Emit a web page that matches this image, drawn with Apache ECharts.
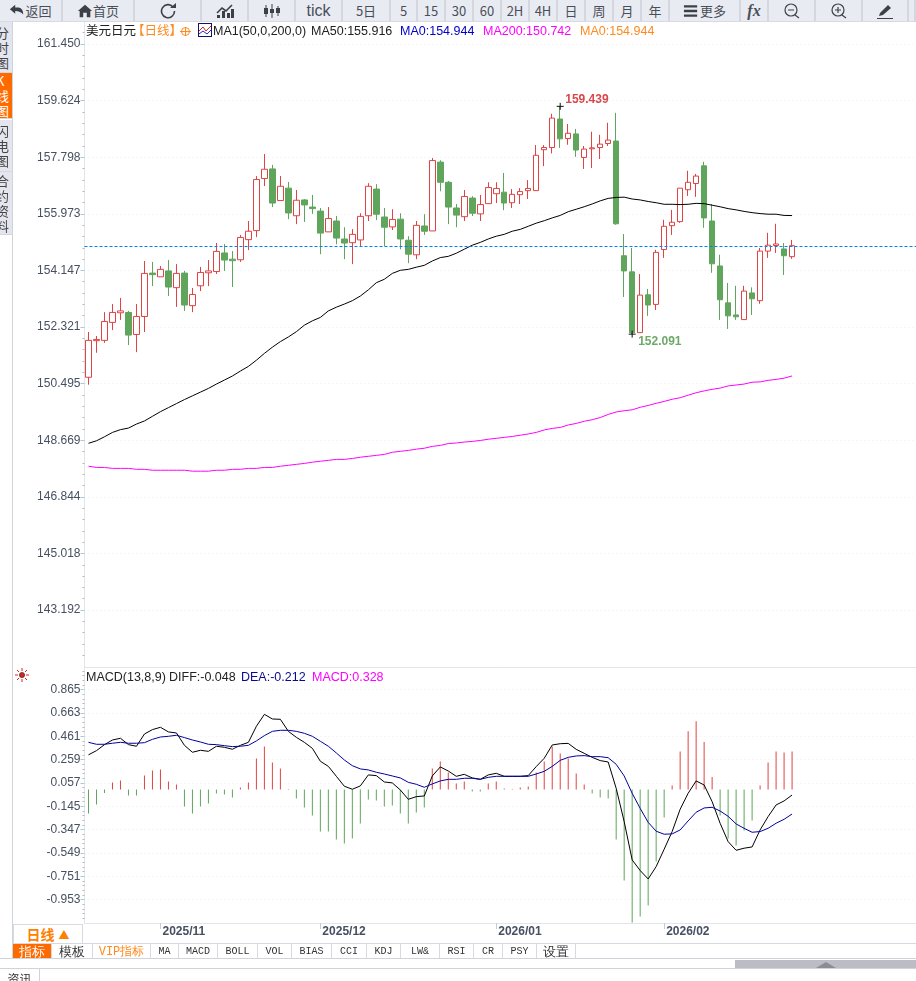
<!DOCTYPE html>
<html>
<head>
<meta charset="UTF-8">
<title>美元日元 日线</title>
<script src="https://cdn.jsdelivr.net/npm/echarts@6/dist/echarts.min.js"></script>
<style>
html,body{margin:0;padding:0;background:#fff;overflow:hidden}
body{width:916px;height:981px;position:relative;font-family:"Noto Sans CJK SC","Liberation Sans",sans-serif}
#main{position:absolute;left:0;top:0;width:916px;height:981px}
.bar{position:absolute;overflow:hidden;white-space:nowrap;box-sizing:border-box;display:flex;align-items:center;justify-content:center}
</style>
</head>
<body>
<div id="main"></div>
<div id="chrome"></div>
<script>
// 日期
var dates = [
'2025/10/21','2025/10/22','2025/10/23','2025/10/24','2025/10/27','2025/10/28','2025/10/29','2025/10/30','2025/10/31',
'2025/11/03','2025/11/04','2025/11/05','2025/11/06','2025/11/07','2025/11/10','2025/11/11','2025/11/12','2025/11/13','2025/11/14',
'2025/11/17','2025/11/18','2025/11/19','2025/11/20','2025/11/21','2025/11/24','2025/11/25','2025/11/26','2025/11/27','2025/11/28',
'2025/12/01','2025/12/02','2025/12/03','2025/12/04','2025/12/05','2025/12/08','2025/12/09','2025/12/10','2025/12/11','2025/12/12',
'2025/12/15','2025/12/16','2025/12/17','2025/12/18','2025/12/19','2025/12/22','2025/12/23','2025/12/24','2025/12/26','2025/12/29','2025/12/30','2025/12/31',
'2026/01/02','2026/01/05','2026/01/06','2026/01/07','2026/01/08','2026/01/09','2026/01/12','2026/01/13','2026/01/14','2026/01/15','2026/01/16',
'2026/01/19','2026/01/20','2026/01/21','2026/01/22','2026/01/23','2026/01/26','2026/01/27','2026/01/28','2026/01/29','2026/01/30',
'2026/02/02','2026/02/03','2026/02/04','2026/02/05','2026/02/06','2026/02/09','2026/02/10','2026/02/11','2026/02/12','2026/02/13',
'2026/02/16','2026/02/17','2026/02/18','2026/02/19','2026/02/20','2026/02/23','2026/02/24'];
var monthStarts = ['2025/11/03','2025/12/01','2026/01/02','2026/02/02'];

// 开 收 低 高
var kline = [
[150.70,151.89,150.46,152.16],[151.88,151.92,151.49,152.03],[151.89,152.50,151.81,152.80],[152.47,152.79,152.22,153.06],
[152.78,152.84,152.55,153.26],[152.79,152.06,151.74,152.84],[152.08,152.66,151.51,153.06],[152.66,154.05,152.16,154.45],
[154.06,154.01,153.64,154.42],[153.94,154.18,153.94,154.29],[154.13,153.61,153.32,154.48],[153.59,154.05,152.97,154.35],
[154.06,153.03,152.84,154.13],[153.01,153.37,152.80,153.58],[153.65,154.08,153.48,154.26],[154.07,154.13,153.64,154.48],
[154.11,154.76,154.03,155.03],[154.71,154.48,154.13,155.00],[154.51,154.46,153.61,154.77],[154.49,155.21,154.42,155.29],
[155.14,155.41,154.80,155.74],[155.43,157.08,155.22,157.19],[157.11,157.41,156.87,157.90],[157.42,156.32,156.19,157.55],
[156.40,156.86,156.40,157.19],[156.80,156.00,155.80,157.00],[155.91,156.41,155.64,156.74],[156.42,156.26,155.71,156.45],
[156.19,156.14,155.97,156.58],[156.06,155.35,154.67,156.16],[155.39,155.82,155.39,156.19],[155.74,155.19,154.99,155.90],
[155.16,155.03,154.51,155.54],[155.04,155.31,154.35,155.48],[155.13,155.89,154.93,155.99],[155.91,156.86,155.74,156.96],
[156.77,155.96,155.77,156.93],[155.87,155.54,154.93,156.16],[155.55,155.79,155.45,156.12],[155.80,155.16,154.83,155.99],
[155.12,154.67,154.38,155.25],[154.65,155.60,154.51,155.74],[155.58,155.41,155.29,155.96],[155.42,157.69,155.42,157.77],
[157.64,156.99,156.70,157.70],[156.99,156.19,155.64,157.03],[156.16,155.93,155.54,156.29],[155.88,156.53,155.74,156.74],
[156.48,155.99,155.90,156.54],[155.97,156.27,155.74,156.58],[156.30,156.82,156.30,156.99],[156.62,156.79,156.32,156.99],
[156.67,156.32,156.09,157.29],[156.33,156.60,156.16,156.77],[156.59,156.69,156.29,156.80],[156.72,156.79,156.45,157.06],
[156.72,157.86,156.72,158.19],[158.04,158.11,157.51,158.19],[158.11,159.06,157.92,159.20],[159.03,158.39,158.10,159.439],
[158.40,158.57,158.20,158.87],[158.55,158.03,157.81,158.71],[157.79,158.06,157.42,158.16],[158.07,158.10,157.45,158.62],
[158.11,158.22,157.74,158.52],[158.24,158.35,158.16,158.91],[158.32,155.65,155.62,159.23],[154.62,154.13,153.29,155.32],
[154.10,152.14,152.091,154.87],[152.14,153.35,152.14,154.03],[153.36,153.03,152.68,153.55],[153.05,154.73,152.87,154.81],
[154.82,155.57,154.55,155.78],[155.59,155.70,155.29,156.10],[155.72,156.80,155.68,156.80],[156.75,156.99,156.55,157.36],
[156.95,157.19,156.52,157.26],[157.52,155.84,155.52,157.65],[155.74,154.36,154.07,156.29],[154.29,153.20,152.55,154.65],
[153.10,152.68,152.26,153.74],[152.71,152.65,152.55,153.65],[152.56,153.48,152.56,153.65],[153.42,153.23,152.71,153.60],
[153.17,154.77,153.07,154.87],[154.77,154.96,154.55,155.36],[154.95,155.00,154.71,155.65],[154.84,154.62,154.00,155.03],
[154.59,154.944,154.52,155.13]];

var ma50 = [148.57,148.65,148.78,148.92,149.01,149.06,149.19,149.29,149.44,149.59,149.72,149.85,149.98,150.10,150.22,150.34,150.48,150.61,150.74,150.90,
151.05,151.25,151.47,151.67,151.85,152.00,152.17,152.38,152.52,152.63,152.84,152.96,153.06,153.17,153.32,153.52,153.75,153.86,154.05,154.15,
154.18,154.25,154.31,154.45,154.56,154.60,154.70,154.83,154.96,155.05,155.16,155.25,155.31,155.41,155.47,155.57,155.67,155.75,155.84,155.92,
156.04,156.12,156.20,156.29,156.39,156.47,156.50,156.51,156.45,156.42,156.37,156.33,156.28,156.28,156.27,156.28,156.31,156.30,156.25,156.20,
156.14,156.10,156.05,156.01,155.98,155.96,155.96,155.92,155.916];

var ma200 = [147.83,147.79,147.79,147.76,147.76,147.76,147.73,147.73,147.70,147.70,147.70,147.70,147.70,147.67,147.67,147.67,147.70,147.70,147.73,147.73,
147.76,147.76,147.79,147.79,147.83,147.86,147.89,147.92,147.96,147.99,148.02,148.05,148.05,148.08,148.12,148.15,148.18,148.21,148.28,148.31,
148.34,148.38,148.41,148.47,148.50,148.56,148.58,148.61,148.63,148.66,148.70,148.73,148.76,148.79,148.83,148.87,148.92,149.00,149.05,149.08,
149.16,149.21,149.28,149.33,149.40,149.50,149.58,149.62,149.65,149.73,149.79,149.86,149.92,149.99,150.04,150.12,150.20,150.26,150.31,150.35,
150.42,150.45,150.48,150.54,150.55,150.60,150.63,150.67,150.742];

var diff = [0.300,0.336,0.388,0.428,0.443,0.388,0.374,0.480,0.518,0.538,0.498,0.489,0.382,0.322,0.339,0.330,0.374,0.365,0.348,0.382,
0.408,0.547,0.650,0.610,0.607,0.503,0.451,0.408,0.356,0.244,0.200,0.114,0.028,0.002,0.031,0.126,0.120,0.065,0.057,-0.004,
-0.085,-0.062,-0.056,0.117,0.195,0.160,0.114,0.131,0.100,0.088,0.126,0.140,0.114,0.114,0.114,0.120,0.198,0.270,0.385,0.396,
0.399,0.347,0.313,0.278,0.250,0.238,0.010,-0.278,-0.609,-0.701,-0.774,-0.667,-0.517,-0.364,-0.171,-0.033,0.074,0.039,-0.105,-0.292,
-0.451,-0.526,-0.508,-0.497,-0.350,-0.235,-0.134,-0.099,-0.048];

var dea = [0.408,0.391,0.391,0.400,0.408,0.400,0.400,0.405,0.434,0.454,0.460,0.469,0.449,0.428,0.411,0.391,0.388,0.379,0.371,0.374,
0.382,0.420,0.466,0.503,0.512,0.512,0.503,0.486,0.460,0.417,0.374,0.316,0.255,0.206,0.178,0.169,0.149,0.134,0.117,0.100,
0.062,0.045,0.019,0.048,0.074,0.088,0.088,0.097,0.097,0.088,0.105,0.114,0.114,0.114,0.114,0.114,0.134,0.157,0.200,0.252,
0.278,0.290,0.293,0.284,0.284,0.275,0.218,0.117,-0.033,-0.163,-0.284,-0.361,-0.387,-0.384,-0.350,-0.272,-0.197,-0.160,-0.154,-0.186,
-0.232,-0.298,-0.336,-0.370,-0.364,-0.336,-0.292,-0.258,-0.212];

var macd = [-0.207,-0.130,-0.030,0.060,0.078,-0.052,-0.052,0.120,0.164,0.173,0.069,0.043,-0.147,-0.207,-0.147,-0.121,-0.035,-0.043,-0.069,0.017,
0.060,0.268,0.372,0.233,0.182,0.005,-0.078,-0.156,-0.225,-0.363,-0.363,-0.432,-0.467,-0.424,-0.294,-0.086,-0.095,-0.147,-0.138,-0.207,
-0.294,-0.199,-0.156,0.182,0.242,0.147,0.052,0.069,-0.017,-0.017,0.052,0.069,0.008,0.005,0.017,0.026,0.147,0.242,0.372,0.311,
0.268,0.138,0.043,-0.035,-0.069,-0.078,-0.432,-0.787,-1.150,-1.098,-1.003,-0.622,-0.242,0.035,0.329,0.503,0.591,0.410,0.107,-0.225,
-0.424,-0.484,-0.354,-0.268,0.035,0.233,0.329,0.320,0.328];

var priceTicks = [161.450,159.624,157.798,155.973,154.147,152.321,150.495,148.669,146.844,145.018,143.192];
var macdTicks = [0.865,0.663,0.461,0.259,0.057,-0.145,-0.347,-0.549,-0.751,-0.953];
var lastPrice = 154.944, highPrice = 159.439, lowPrice = 152.091;

var priceLegend = [
	['美元日元', 86, '#222'], ['【日线】', 132, '#ff8a1f'], ['MA1(50,0,200,0)', 213, '#222'], ['MA50:155.916', 311, '#222'],
	['MA0:154.944', 400, '#0000c8'], ['MA200:150.742', 483, '#ff00ff'], ['MA0:154.944', 580, '#ff8a1f']];
var macdLegend = [
	['MACD(13,8,9)', 86, '#222'], ['DIFF:-0.048', 169, '#222'], ['DEA:-0.212', 241, '#0a0a8c'], ['MACD:0.328', 312, '#ff00ff']];

var RED = '#e04343', GREEN = '#5fa55c', AXIS = '#e2e5ea', LABEL = '#465060';

function minorTicks(ticks){
	// 每格分5小格
	var step = ticks[0] - ticks[1], out = [];
	for(var i = -1; i < ticks.length + 1; i++){
		for(var j = 1; j < 5; j++){
			out.push(ticks[0] - step * i - step * j / 5);
		}
	}
	return out;
}

function yAxisFor(gridIndex, min, max, ticks){
	return [{
		gridIndex: gridIndex, type: 'value', min: min, max: max, position: 'left', scale: true,
		axisLine: {show: true, lineStyle: {color: AXIS}},
		axisTick: {show: true, length: 4, lineStyle: {color: '#a9c9de'}, customValues: ticks},
		axisLabel: {color: LABEL, fontFamily: 'Liberation Sans', fontSize: 12, margin: 4, customValues: ticks,
			formatter: function(v){ return v.toFixed(3); }},
		splitLine: {show: true, customValues: ticks, lineStyle: {color: '#ececec', type: [1, 3]}}
	},{
		gridIndex: gridIndex, type: 'value', min: min, max: max, position: 'left', scale: true,
		axisLine: {show: false},
		axisTick: {show: true, length: 2, lineStyle: {color: '#b4b8be'}, customValues: minorTicks(ticks)},
		axisLabel: {show: false}, splitLine: {show: false}
	}];
}

function legendText(items, y){
	return items.map(function(it){
		return {type: 'text', left: it[1], top: y, style: {text: it[0], fill: it[2], font: '12.5px "Liberation Sans","Noto Sans CJK SC"'}};
	});
}

function isMonthStart(idx, val){ return monthStarts.indexOf(val) >= 0; }

var chart = echarts.init(document.getElementById('main'));
chart.setOption({
	animation: false,
	grid: [
		{left: 84.5, top: 22, width: 832, height: 645},
		{left: 84.5, top: 667, width: 832, height: 256}
	],
	xAxis: [{
		gridIndex: 0, type: 'category', data: dates, max: 103, boundaryGap: true,
		axisLine: {show: true, onZero: false, lineStyle: {color: AXIS}}, axisTick: {show: false}, axisLabel: {show: false}, splitLine: {show: false}
	},{
		gridIndex: 1, type: 'category', data: dates, max: 103, boundaryGap: true,
		axisLine: {show: true, onZero: false, lineStyle: {color: AXIS}},
		axisTick: {show: true, alignWithLabel: true, length: 6, interval: isMonthStart, lineStyle: {color: '#c8ccd2'}},
		axisLabel: {interval: isMonthStart, align: 'left', margin: 3, padding: [0, 0, 0, 2], color: LABEL, fontFamily: 'Liberation Sans', fontSize: 12, fontWeight: 'bold',
			formatter: function(v){ return v.slice(0, 7); }},
		splitLine: {show: false}
	}],
	yAxis: yAxisFor(0, 141.353, 162.16, priceTicks).concat(yAxisFor(1, -1.155, 1.0596, macdTicks)),
	series: [{
		name: 'K', type: 'candlestick', xAxisIndex: 0, yAxisIndex: 0, data: kline, barWidth: 6,
		itemStyle: {color: '#fff', color0: GREEN, borderColor: RED, borderColor0: GREEN, borderWidth: 1},
		markLine: {
			silent: true, symbol: 'none', label: {show: false},
			lineStyle: {color: '#0080ff', type: [3, 2], width: 1},
			data: [{yAxis: lastPrice}]
		},
		markPoint: {
			symbol: 'path://M0 5H10M5 0V10', symbolSize: 7, silent: true,
			itemStyle: {color: 'none', borderColor: '#111', borderWidth: 1},
			data: [
				{coord: [59, highPrice], value: highPrice, label: {position: 'right', distance: 1, offset: [-2, -7], color: '#d9484a'}},
				{coord: [68, lowPrice], value: lowPrice, label: {position: 'right', distance: 1, offset: [-1, 8], color: '#6fa96a'}}
			],
			label: {show: true, fontFamily: 'Liberation Sans', fontSize: 12, fontWeight: 'bold', formatter: function(p){ return p.value.toFixed(3); }}
		}
	},{
		name: 'MA50', type: 'line', xAxisIndex: 0, yAxisIndex: 0, data: ma50, showSymbol: false, lineStyle: {color: '#000', width: 1}
	},{
		name: 'MA200', type: 'line', xAxisIndex: 0, yAxisIndex: 0, data: ma200, showSymbol: false, lineStyle: {color: '#ff00ff', width: 1}
	},{
		name: 'MACD', type: 'bar', xAxisIndex: 1, yAxisIndex: 2, data: macd, barWidth: 1,
		itemStyle: {color: function(p){ return p.value >= 0 ? RED : GREEN; }}
	},{
		name: 'DIFF', type: 'line', xAxisIndex: 1, yAxisIndex: 2, data: diff, showSymbol: false, lineStyle: {color: '#000', width: 1}
	},{
		name: 'DEA', type: 'line', xAxisIndex: 1, yAxisIndex: 2, data: dea, showSymbol: false, lineStyle: {color: '#00009c', width: 1}
	}],
	graphic: legendText(priceLegend, 25).concat(legendText(macdLegend, 671))
});

// 外框工具栏
var chrome = document.getElementById('chrome');
function add(x, y, w, h, css, html){
	var d = document.createElement('div');
	d.className = 'bar';
	d.style.cssText = 'left:' + x + 'px;top:' + y + 'px;width:' + w + 'px;height:' + h + 'px;' + (css || '');
	if(html) d.innerHTML = html;
	chrome.appendChild(d);
	return d;
}
function icon(path, w){
	return '<svg width="' + (w || 18) + '" height="16" viewBox="0 0 18 16" style="flex:none">' + path + '</svg>';
}
var DARK = '#3c4148';
var toolbar = [
	[0, 63, icon('<path d="M1 6 L7 1 V4 H11 Q16 5 16 12 Q13 8 7 8 V11 Z" fill="'+DARK+'"/>', 16) + '返回'],
	[63, 135, icon('<path d="M9 1 L17 8 H15 V15 H11 V10 H7 V15 H3 V8 H1 Z" fill="'+DARK+'"/>', 16) + ' 首页'],
	[135, 202, icon('<path d="M14 4 A6.5 6.5 0 1 0 15.5 8" fill="none" stroke="'+DARK+'" stroke-width="1.6"/><path d="M11 5 H17 V0 Z" fill="'+DARK+'"/>')],
	[202, 249, icon('<path d="M1 10 L6 5 L10 8 L16 2" fill="none" stroke="'+DARK+'" stroke-width="1.6"/><path d="M1 15 V12 H4 V15 Z M6 15 V8 H9 V15 Z M11 15 V10 H14 V15 Z M15 15 V6 H18 V15 Z" fill="'+DARK+'"/>')],
	[249, 296, icon('<path d="M3 2 V14 M9 1 V15 M15 3 V13" stroke="'+DARK+'" stroke-width="1"/><path d="M1 5 H5 V11 H1 Z M7 6 H11 V10 H7 Z M13 5 H17 V10 H13 Z" fill="'+DARK+'"/>')],
	[296, 343, '<span style="font:16px \'Liberation Sans\'">tick</span>'],
	[343, 391, '5日'], [391, 418, '5'], [418, 446, '15'], [446, 474, '30'], [474, 502, '60'], [502, 530, '2H'], [530, 558, '4H'],
	[558, 586, '日'], [586, 614, '周'], [614, 642, '月'], [642, 670, '年'],
	[670, 741, icon('<path d="M1 3 H15 M1 8 H15 M1 13 H15" stroke="'+DARK+'" stroke-width="2.4"/>', 17) + ' 更多'],
	[741, 769, '<span style="font:italic bold 16px \'Liberation Serif\'">fx</span>'],
	[769, 816, icon('<circle cx="8" cy="7" r="6" fill="none" stroke="'+DARK+'" stroke-width="1.2"/><path d="M5 7 H11 M12 12 L16 15" stroke="'+DARK+'" stroke-width="1.2"/>')],
	[816, 863, icon('<circle cx="8" cy="7" r="6" fill="none" stroke="'+DARK+'" stroke-width="1.2"/><path d="M5 7 H11 M8 4 V10 M12 12 L16 15" stroke="'+DARK+'" stroke-width="1.2"/>')],
	[863, 909, icon('<path d="M4 10 L12 2 L15 5 L7 12 L3 13 Z" fill="'+DARK+'"/><path d="M1 15.5 H17" stroke="'+DARK+'"/>')],
	[909, 916, '']
];
add(0, 0, 916, 22, 'background:#e9ebf3;border-bottom:1px solid #d8dae0');
toolbar.forEach(function(b){
	add(b[0], 0, b[1] - b[0], 21, 'border-right:2px solid #d5d7de;color:#4a4f57;font-size:13px;', b[2]);
});

// 左侧竖排页签
var sideTabs = [[22, 51, '分<br>时<br>图', '#e4e6ef', '#444'], [73, 46, 'K<br>线<br>图', '#ff6a00', '#fff'], [120, 52, '闪<br>电<br>图', '#e4e6ef', '#444'], [172, 63, '合<br>约<br>资<br>料', '#e4e6ef', '#444']];
sideTabs.forEach(function(t){
	add(0, t[0], 12, t[1], 'background:' + t[3] + ';color:' + t[4] + ';font-size:13px;line-height:15px;justify-content:flex-end;border-bottom:1px solid #d5d7de;', '<span style="margin-right:3px">' + t[2] + '</span>');
});
add(12, 22, 1, 937, 'background:#cfd3da');

// 指标图图标
add(15, 668, 14, 14, 'overflow:visible', '<svg width="14" height="14" viewBox="0 0 14 14"><circle cx="7" cy="7" r="2.6" fill="#e02020" stroke="#222" stroke-width=".6"/><path d="M7 0 V3 M7 11 V14 M0 7 H3 M11 7 H14 M2 2 L4 4 M10 10 L12 12 M2 12 L4 10 M10 4 L12 2" stroke="#e02020" stroke-width="1"/></svg>');
// 图例里的小图标
add(180, 26, 11, 11, 'overflow:visible', '<svg width="11" height="11" viewBox="0 0 11 11"><circle cx="5.5" cy="5.5" r="4" fill="none" stroke="#ff8a1f"/><path d="M0 5.5 H11 M5.5 1 V10" stroke="#ff8a1f"/></svg>');
add(198, 23, 14, 14, 'overflow:visible', '<svg width="14" height="14" viewBox="0 0 14 14"><rect x=".5" y=".5" width="13" height="13" fill="#fff" stroke="#12126a"/><path d="M1 8 L5 4 L8 8 L13 3" fill="none" stroke="#e02020"/><path d="M1 11 L5 8 L9 11 L13 7" fill="none" stroke="#2030c0"/></svg>');

// 底部页签
add(13, 924, 70, 19, 'border:1px solid #d6d9df;border-bottom:none;color:#ff8000;font-size:14px;font-weight:bold;background:#fff', '日线 <span style="font-size:11px;margin-left:4px">▲</span>');
var bottomTabs = [
	[13, 52, '指标', 'background:#ff6a00;color:#fff;font-size:13px'],
	[52, 93, '模板', 'color:#333;font-size:13px'],
	[93, 151, 'VIP指标', 'color:#ff8a1f;font-size:12px'],
	[151, 179, 'MA'], [179, 218, 'MACD'], [218, 258, 'BOLL'], [258, 292, 'VOL'], [292, 332, 'BIAS'],
	[332, 367, 'CCI'], [367, 401, 'KDJ'], [401, 440, 'LW&'], [440, 474, 'RSI'], [474, 503, 'CR'], [503, 537, 'PSY'],
	[537, 576, '设置', 'color:#333;font-size:13px']
];
add(13, 943, 903, 1, 'background:#d6d9df');
bottomTabs.forEach(function(t){
	add(t[0], 944, t[1] - t[0], 15, 'border-right:1px solid #d6d9df;color:#333;font:10px \'Liberation Mono\';' + (t[3] || ''), t[2]);
});
add(0, 958, 916, 1, 'background:#cfd3da');
add(735, 960, 181, 8, 'background:#bcbcc4');
add(816, 960, 20, 8, 'overflow:visible', '<svg width="20" height="8"><path d="M0 8 L10 2 L20 8 Z" fill="#8c8c94"/></svg>');
add(0, 968, 916, 1, 'background:#cfd3da');
add(0, 969, 40, 12, 'border-right:1px solid #cfd3da;color:#333;font-size:12px;align-items:flex-start;', '<span style="margin-top:1px">资讯</span>');
</script>
</body>
</html>
